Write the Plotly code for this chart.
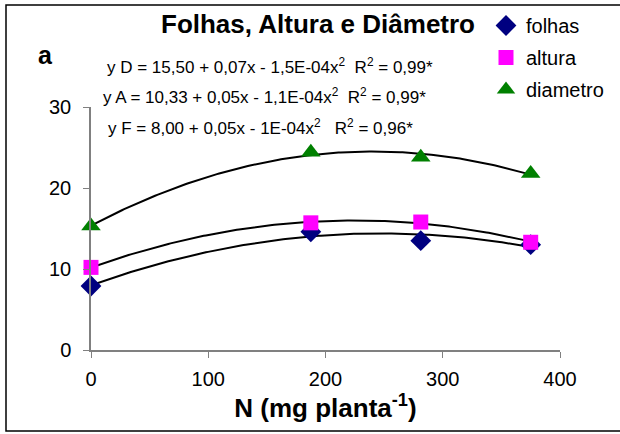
import numpy as np
import plotly.graph_objects as go

# Data
doses = [0, 187.5, 281.25, 375]
folhas = [7.9, 14.6, 13.5, 13.0]
altura = [10.2, 15.7, 15.8, 13.3]
diametro = [15.3, 24.4, 23.8, 21.8]

series_names = ["folhas", "altura", "diametro"]
equations = [
    "y D = 15,50 + 0,07x - 1,5E-04x<sup>2</sup>  R<sup>2</sup> = 0,99*",
    "y A = 10,33 + 0,05x - 1,1E-04x<sup>2</sup>  R<sup>2</sup> = 0,99*",
    "y F = 8,00 + 0,05x - 1E-04x<sup>2</sup>   R<sup>2</sup> = 0,96*",
]
x_ticks = [0, 100, 200, 300, 400]
y_ticks = [0, 10, 20, 30]

FONT = "Arial, Liberation Sans, sans-serif"

fig = go.Figure()

# trend lines (quadratic fits)
xs = np.linspace(min(doses), max(doses), 200)
for vals in [folhas, altura, diametro]:
    c = np.polyfit(doses, vals, 2)
    fig.add_trace(go.Scatter(x=xs, y=np.polyval(c, xs), mode="lines",
                             line=dict(color="black", width=2),
                             showlegend=False, hoverinfo="skip", cliponaxis=False))

styles = [
    dict(symbol="diamond", color="#000080", size=16),
    dict(symbol="square", color="#FF00FF", size=15),
    dict(symbol="triangle-up", color="#008000", size=17),
]
for i, (name, vals) in enumerate(zip(series_names, [folhas, altura, diametro])):
    fig.add_trace(go.Scatter(x=doses, y=vals, mode="markers", name=name,
                             legendgroup=name, cliponaxis=False,
                             marker=dict(symbol=styles[i]["symbol"], color=styles[i]["color"],
                                         size=styles[i]["size"], line=dict(width=0))))

# plot area: x 91..560 px, y 107..350 px
L, R, T, B = 91, 60, 107, 84
W, H = 620, 434
pw, ph = W - L - R, H - T - B

def px(xp):
    return (xp - L) / pw

def py(yp):
    return (H - B - yp) / ph

annotations = [
    dict(text="<b>Folhas, Altura e Diâmetro</b>", x=px(318), y=py(24), xref="paper", yref="paper",
         showarrow=False, font=dict(family=FONT, size=26, color="black"), xanchor="center", yanchor="middle"),
    dict(text="<b>a</b>", x=px(45), y=py(55), xref="paper", yref="paper",
         showarrow=False, font=dict(family=FONT, size=25, color="black"), xanchor="center", yanchor="middle"),
]
eq_pos = [(105, 66), (101, 96), (106, 127)]
for eq, (ex, ey) in zip(equations, eq_pos):
    annotations.append(dict(text=eq, x=px(ex), y=py(ey), xref="paper", yref="paper",
                            showarrow=False, font=dict(family=FONT, size=17, color="black"),
                            xanchor="left", yanchor="middle"))

fig.update_layout(
    width=W, height=H,
    margin=dict(l=L, r=R, t=T, b=B, autoexpand=False),
    paper_bgcolor="white", plot_bgcolor="white",
    font=dict(family=FONT, color="black"),
    annotations=annotations,
    legend=dict(x=px(486), y=py(6), xref="paper", yref="paper", xanchor="left", yanchor="top",
                font=dict(family=FONT, size=20, color="black"), tracegroupgap=3,
                bgcolor="rgba(0,0,0,0)", itemwidth=30),
    shapes=[dict(type="rect", xref="paper", yref="paper",
                 x0=px(6), x1=px(640), y0=py(431), y1=py(5),
                 line=dict(color="black", width=1.5), fillcolor="rgba(0,0,0,0)", layer="below")],
    showlegend=True,
)
fig.update_xaxes(range=[0, 400], tickvals=x_ticks, ticks="outside", ticklen=6, tickcolor="#808080",
                 showline=True, linecolor="#808080", linewidth=1.5, showgrid=False, zeroline=False,
                 tickfont=dict(family=FONT, size=20, color="black"), ticklabelstandoff=4,
                 title=dict(text="<b>N (mg planta<sup>-1</sup>)</b>", font=dict(family=FONT, size=26, color="black"),
                            standoff=4))
fig.update_yaxes(range=[0, 30], tickvals=y_ticks, ticks="outside", ticklen=6, tickcolor="#808080",
                 showline=True, linecolor="#808080", linewidth=1.5, showgrid=False, zeroline=False,
                 tickfont=dict(family=FONT, size=20, color="black"), ticklabelstandoff=8)

fig.write_html("out.html")
